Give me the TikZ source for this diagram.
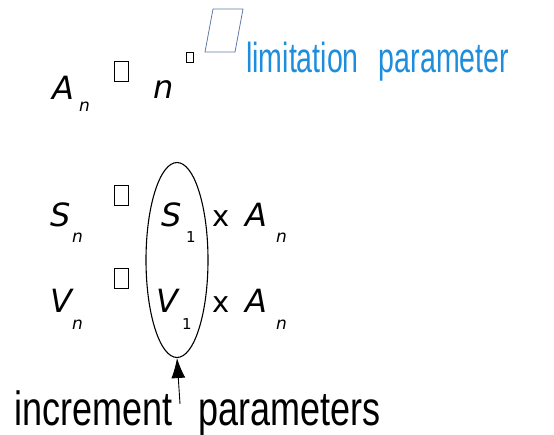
\documentclass[tikz,border=0pt]{standalone}
\usepackage{fontspec}
\usepackage{xcolor}
\usetikzlibrary{shapes.geometric,arrows.meta}
\newfontfamily\symfont{DejaVu Sans}
\newfontfamily\labfont[FakeStretch=0.68]{Liberation Sans}
\newfontfamily\incfont[FakeStretch=0.75]{Liberation Sans}
\definecolor{limcol}{RGB}{30,142,220}
\definecolor{boxcol}{RGB}{95,125,165}

\begin{document}
\begin{tikzpicture}[x=1pt,y=-1pt,
  big/.style={inner sep=0pt,anchor=base west,font=\symfont\itshape\fontsize{32}{32}\selectfont},
  sub/.style={inner sep=0pt,anchor=base west,font=\symfont\itshape\fontsize{17}{17}\selectfont},
  num/.style={inner sep=0pt,anchor=base west,font=\symfont\fontsize{15}{15}\selectfont},
  times/.style={inner sep=0pt,anchor=base west,font=\symfont\fontsize{29}{29}\selectfont},
  gap/.style={draw,line width=0.8pt,inner sep=0pt,minimum width=14pt,minimum height=20pt},
  smallgap/.style={draw,line width=0.7pt,inner sep=0pt,minimum width=7pt,minimum height=10pt}]
\useasboundingbox (0,0) rectangle (554,435);
\node[big] (an) at (52,100) {A};
\node[sub] (ann) at (79,112) {n};
\node[gap] (eqa) at (121,71) {};
\node[big] (nn) at (153,99) {n};
\node[smallgap] (pw) at (190,57) {};
\coordinate (pa) at (213,9);
\coordinate (pb) at (243,9);
\coordinate (pc) at (235,52);
\coordinate (pd) at (205,52);
\draw[boxcol,line width=0.8pt] (pa) -- (pb) -- (pc) -- (pd) -- cycle;
\node[inner sep=0pt,anchor=base west,text=limcol,font=\labfont\fontsize{42}{42}\selectfont] (lim) at (246,73) {limitation\hspace{20pt}parameter};
\node[big] (sn) at (50,227) {S};
\node[sub] (snn) at (72,243) {n};
\node[gap] (eqs) at (121,195) {};
\node[big] (s1) at (161,227) {S};
\node[num] (s1i) at (186,243) {1};
\node[times] (sx) at (212,227) {x};
\node[big] (sa) at (245,227) {A};
\node[sub] (san) at (276,243) {n};
\node[big] (vn) at (50,313) {V};
\node[sub] (vnn) at (72,330) {n};
\node[gap] (eqv) at (121,278) {};
\node[big] (v1) at (156,313) {V};
\node[num] (v1i) at (182,330) {1};
\node[times] (vx) at (212,313) {x};
\node[big] (va) at (245,313) {A};
\node[sub] (van) at (276,330) {n};
\node[draw,ellipse,line width=1.1pt,minimum width=62pt,minimum height=195pt,inner sep=0pt] (grp) at (177,260) {};
\node[inner sep=0pt,anchor=base west,font=\incfont\fontsize{48}{48}\selectfont] (inc) at (14,425) {increment\hspace{26pt}parameters};
\coordinate (ptr) at (180,404);
\draw[-{Latex[length=20pt,width=14pt]},line width=0.9pt] (ptr) -- (grp.south);
\end{tikzpicture}
\end{document}
